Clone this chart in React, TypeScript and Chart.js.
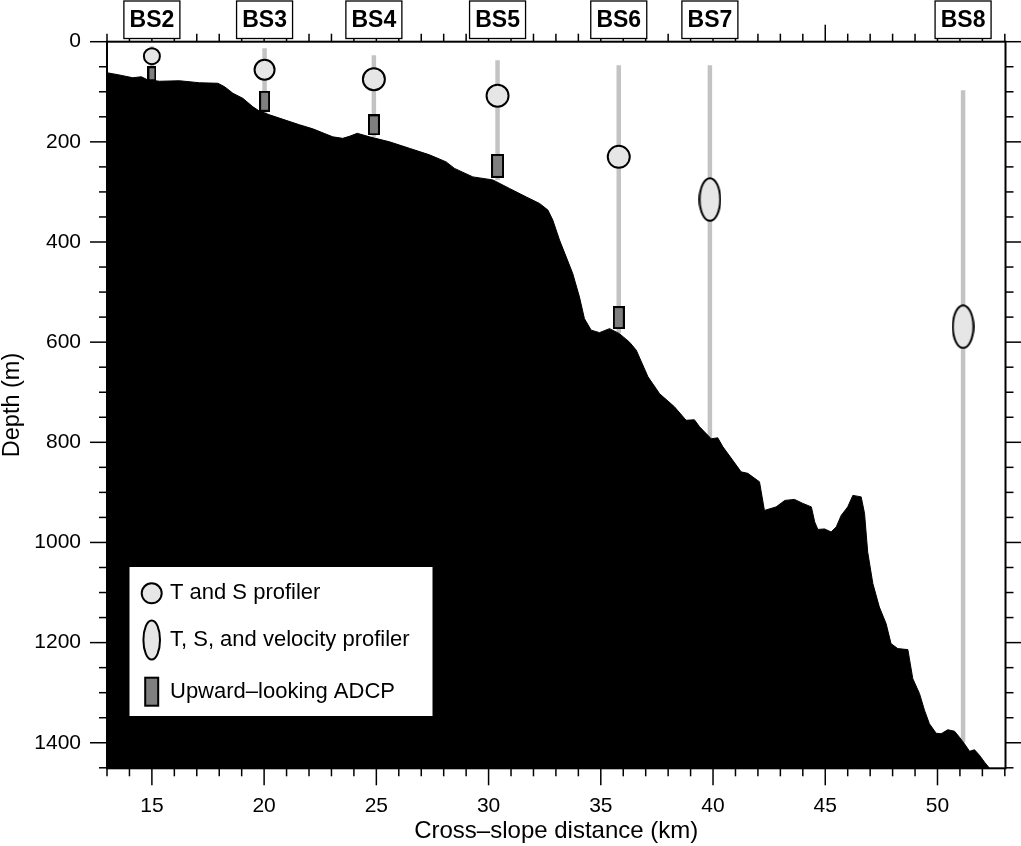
import React, { useEffect, useRef } from 'react';
import { Chart, registerables } from 'chart.js';

Chart.register(...registerables);

// ---------- data ----------
const stationNames = ['BS2', 'BS3', 'BS4', 'BS5', 'BS6', 'BS7', 'BS8'];
const stationKm = [15.0, 20.02, 24.89, 30.4, 35.8, 39.86, 51.14];
const mooringTopDepth = [9, 13, 27, 37, 47, 47, 97];
const mooringBottomDepth = [78, 143, 190, 276, 582, 793, 1400];

const tsProfilerKm = [15.0, 20.02, 24.89, 30.4, 35.8];
const tsProfilerDepth = [29, 56, 75, 108, 230];

const tsvProfilerKm = [39.86, 51.14];
const tsvProfilerDepth = [315, 569];

const adcpKm = [15.0, 20.02, 24.89, 30.4, 35.8];
const adcpDepth = [64, 119, 166, 248, 551];

const bathyKm = [
  13.0, 13.5, 14.15, 14.53, 14.8, 15.34, 16.23, 17.12, 17.94, 18.24, 18.61, 19.05, 19.5, 19.77,
  20.24, 20.84, 21.58, 22.17, 23.06, 23.5, 23.8, 24.15, 24.7, 25.59, 26.48, 27.37, 28.11, 28.48,
  29.3, 30.19, 30.93, 31.68, 32.27, 32.64, 32.86, 33.16, 33.46, 33.75, 34.05, 34.27, 34.57, 34.94,
  35.39, 35.83, 36.28, 36.58, 37.1, 37.62, 38.28, 38.8, 39.17, 39.4, 39.92, 40.21, 40.44, 40.88,
  41.25, 41.55, 42.07, 42.29, 42.81, 43.2, 43.63, 44.0, 44.38, 44.53, 44.67, 44.97, 45.26, 45.49,
  45.71, 46.0, 46.23, 46.6, 46.75, 46.89, 47.12, 47.41, 47.71, 47.93, 48.23, 48.68, 48.9, 49.2,
  49.42, 49.64, 49.94, 50.16, 50.46, 50.76, 50.98, 51.2, 51.43, 51.65, 51.87, 52.1, 52.32,
];
const bathyDepth = [
  62, 66, 72, 70, 76, 79, 78, 82, 83, 90, 103, 113, 130, 138,
  146, 155, 166, 174, 190, 193, 189, 183, 190, 200, 213, 226, 240, 253,
  270, 276, 293, 310, 323, 336, 356, 396, 430, 463, 510, 553, 576, 581,
  573, 583, 600, 616, 669, 703, 729, 756, 755, 769, 793, 791, 809, 836,
  859, 862, 879, 936, 929, 916, 914, 922, 929, 959, 974, 973, 979, 969,
  946, 929, 906, 909, 942, 1019, 1082, 1129, 1162, 1202, 1212, 1214, 1272, 1302,
  1335, 1362, 1381, 1382, 1374, 1377, 1389, 1402, 1417, 1414, 1425, 1439, 1451,
];

const xTickLabels = [15, 20, 25, 30, 35, 40, 45, 50];
const yTickLabels = [0, 200, 400, 600, 800, 1000, 1200, 1400];

const legendLabels = ['T and S profiler', 'T, S, and velocity profiler', 'Upward\u2013looking ADCP'];

// ---------- style ----------
const FONT = '"Liberation Sans", Arial, Helvetica, sans-serif';
const LIGHT = '#e6e6e6';
const ADCP_FILL = '#7f7f7f';
const MOORING = '#c3c3c3';
const tsRadius = [8, 10, 11, 11, 11];
const adcpSize = [[9, 15], [11, 21], [12, 21], [13, 24], [12, 23]];
const ellipseSize = [23, 45];

function makeRect(w: number, h: number) {
  const c = document.createElement('canvas');
  c.width = w; c.height = h;
  const g = c.getContext('2d')!;
  g.fillStyle = ADCP_FILL;
  g.fillRect(0, 0, w, h);
  g.strokeStyle = '#000';
  g.lineWidth = 2;
  g.strokeRect(1, 1, w - 2, h - 2);
  return c;
}

function makeEllipse(w: number, h: number) {
  const c = document.createElement('canvas');
  c.width = w; c.height = h;
  const g = c.getContext('2d')!;
  g.beginPath();
  g.ellipse(w / 2, h / 2, w / 2 - 1.2, h / 2 - 1.2, 0, 0, Math.PI * 2);
  g.fillStyle = LIGHT;
  g.fill();
  g.strokeStyle = '#000';
  g.lineWidth = 2;
  g.stroke();
  return c;
}

const decorPlugin = {
  id: 'decor',
  afterDraw(chart: any) {
    const { ctx, chartArea: a, scales } = chart;
    const x = scales.x;
    const y = scales.y;
    ctx.save();
    ctx.strokeStyle = '#000';
    ctx.lineCap = 'butt';
    const seg = (x1: number, y1: number, x2: number, y2: number) => {
      ctx.beginPath();
      ctx.moveTo(x1, y1);
      ctx.lineTo(x2, y2);
      ctx.stroke();
    };
    // ticks
    ctx.lineWidth = 1.5;
    for (let v = Math.ceil(x.min); v <= x.max; v++) {
      const px = x.getPixelForValue(v);
      const len = v % 5 === 0 ? 17 : 8;
      seg(px, a.bottom, px, a.bottom + len);
      seg(px, a.top, px, a.top - len);
    }
    for (let d = 0; d <= y.max; d += 50) {
      const py = y.getPixelForValue(d);
      const len = d % 200 === 0 ? 17 : 8;
      seg(a.left, py, a.left - len, py);
      seg(a.right, py, a.right + len, py);
    }
    // frame
    ctx.lineWidth = 2;
    ctx.strokeRect(a.left, a.top, a.right - a.left, a.bottom - a.top);

    // station boxes
    ctx.font = `bold 23px ${FONT}`;
    ctx.textAlign = 'center';
    ctx.textBaseline = 'middle';
    stationNames.forEach((name, i) => {
      const cx = x.getPixelForValue(stationKm[i]);
      const bw = 56;
      ctx.fillStyle = '#fff';
      ctx.fillRect(cx - bw / 2, 1, bw, 37.5);
      ctx.lineWidth = 1.3;
      ctx.strokeStyle = '#000';
      ctx.strokeRect(cx - bw / 2, 1, bw, 37.5);
      ctx.fillStyle = '#000';
      ctx.fillText(name, cx, 21);
    });

    // legend
    const lx = 129.5, ly = 567, lw = 303, lh = 149;
    ctx.fillStyle = '#fff';
    ctx.fillRect(lx, ly, lw, lh);
    const mx = 151.7;
    const rows = [593.3, 640, 691.7];
    ctx.lineWidth = 2;
    ctx.strokeStyle = '#000';
    ctx.beginPath();
    ctx.arc(mx, rows[0], 10, 0, Math.PI * 2);
    ctx.fillStyle = LIGHT;
    ctx.fill();
    ctx.stroke();
    ctx.beginPath();
    ctx.ellipse(mx, rows[1], 8.3, 19.5, 0, 0, Math.PI * 2);
    ctx.fillStyle = LIGHT;
    ctx.fill();
    ctx.stroke();
    ctx.fillStyle = ADCP_FILL;
    ctx.fillRect(mx - 6.5, rows[2] - 14, 13, 28);
    ctx.strokeRect(mx - 6.5, rows[2] - 14, 13, 28);
    ctx.fillStyle = '#000';
    ctx.font = `22px ${FONT}`;
    ctx.textAlign = 'left';
    ctx.textBaseline = 'middle';
    legendLabels.forEach((t, i) => ctx.fillText(t, 170, rows[i]));
    ctx.restore();
  },
};

export default function App() {
  const ref = useRef<HTMLCanvasElement | null>(null);

  useEffect(() => {
    if (!ref.current) return;
    const adcpStyles = adcpSize.map(([w, h]) => makeRect(w, h));
    const ellipseStyle = makeEllipse(ellipseSize[0], ellipseSize[1]);

    const mooringSets = stationKm.map((km, i) => ({
      type: 'line' as const,
      data: [
        { x: km, y: mooringTopDepth[i] },
        { x: km, y: mooringBottomDepth[i] },
      ],
      borderColor: MOORING,
      borderWidth: 4.5,
      pointRadius: 0,
      showLine: true,
      fill: false,
      order: 3,
    }));

    const chart = new Chart(ref.current, {
      type: 'scatter',
      data: {
        datasets: [
          {
            label: 'T and S profiler',
            data: tsProfilerKm.map((k, i) => ({ x: k, y: tsProfilerDepth[i] })),
            pointStyle: 'circle',
            pointRadius: tsRadius,
            backgroundColor: LIGHT,
            borderColor: '#000',
            borderWidth: 2,
            order: 0,
          },
          {
            label: 'T, S, and velocity profiler',
            data: tsvProfilerKm.map((k, i) => ({ x: k, y: tsvProfilerDepth[i] })),
            pointStyle: ellipseStyle,
            pointRadius: 12,
            order: 0,
          },
          {
            label: 'Upward-looking ADCP',
            data: adcpKm.map((k, i) => ({ x: k, y: adcpDepth[i] })),
            pointStyle: adcpStyles,
            pointRadius: 8,
            order: 0,
          },
          {
            label: 'Bathymetry',
            type: 'line',
            data: bathyKm.map((k, i) => ({ x: k, y: bathyDepth[i] })),
            showLine: true,
            borderColor: '#000',
            borderWidth: 1,
            backgroundColor: '#000',
            pointRadius: 0,
            fill: 'start',
            tension: 0,
            order: 1,
          },
          ...mooringSets,
        ] as any,
      },
      options: {
        animation: false,
        responsive: false,
        events: [],
        layout: { padding: { top: 41.7, right: 15.5, left: 0, bottom: 0 } },
        plugins: {
          legend: { display: false },
          tooltip: { enabled: false },
        },
        scales: {
          x: {
            type: 'linear',
            position: 'bottom',
            min: 13,
            max: 53.03,
            grid: { display: false, drawTicks: false },
            border: { display: false },
            afterBuildTicks: (s: any) => {
              s.ticks = xTickLabels.map((v) => ({ value: v }));
            },
            afterFit: (s: any) => {
              s.height = 77.7;
            },
            ticks: {
              autoSkip: false,
              maxRotation: 0,
              padding: 25,
              color: '#000',
              font: { family: FONT, size: 21 },
              callback: (v: any) => String(v),
            },
            title: {
              display: true,
              text: 'Cross\u2013slope distance (km)',
              color: '#000',
              font: { family: FONT, size: 24 },
              padding: { top: 0, bottom: 0 },
            },
          },
          y: {
            type: 'linear',
            position: 'left',
            reverse: true,
            min: 0,
            max: 1451,
            grid: { display: false, drawTicks: false },
            border: { display: false },
            afterBuildTicks: (s: any) => {
              s.ticks = yTickLabels.map((v) => ({ value: v }));
            },
            afterFit: (s: any) => {
              s.width = 107;
            },
            ticks: {
              autoSkip: false,
              padding: 26,
              color: '#000',
              font: { family: FONT, size: 21 },
              callback: (v: any) => String(v),
            },
            title: {
              display: true,
              text: 'Depth (m)',
              color: '#000',
              font: { family: FONT, size: 23.5 },
              padding: { top: -2, bottom: 0 },
            },
          },
        },
      },
      plugins: [decorPlugin],
    });
    return () => chart.destroy();
  }, []);

  return (
    <div style={{ position: 'fixed', left: 0, top: 0, width: 1021, height: 846, background: '#fff' }}>
      <canvas ref={ref} width={1021} height={846} style={{ display: 'block' }} />
    </div>
  );
}
